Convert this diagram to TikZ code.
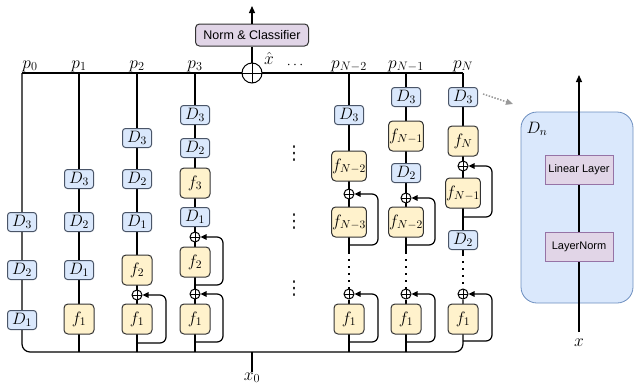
\RequirePackage{fix-cm}
\documentclass[tikz,border=0pt]{standalone}
\usepackage{fontspec}
\newfontfamily\sansf{Liberation Sans}
\newfontfamily\dejavu{DejaVu Sans}
\usetikzlibrary{arrows.meta,calc}
\definecolor{dfill}{HTML}{DAE8FC}
\definecolor{dline}{HTML}{4A5568}
\definecolor{ffill}{HTML}{FFF2CC}
\definecolor{fline}{HTML}{333333}
\definecolor{pfill}{HTML}{E1D5E7}
\definecolor{pline}{HTML}{9673A6}
\definecolor{bline}{HTML}{6C8EBF}
\definecolor{garr}{HTML}{999999}
\newcommand{\mfont}{\fontsize{16.5}{18}\selectfont}
\newcommand{\lfont}{\fontsize{17.5}{19}\selectfont}
\pgfdeclarelayer{bg}
\pgfsetlayers{bg,main}
\begin{document}
\begin{tikzpicture}[x=1pt,y=-1pt,line width=1.2pt,
  dbox/.style={draw=dline,fill=dfill,line width=1pt,rounded corners=3pt,minimum width=29pt,minimum height=19pt,inner sep=0.5pt,font=\mfont},
  fbox/.style={draw=fline,fill=ffill,line width=1pt,rounded corners=4pt,minimum width=30pt,minimum height=30pt,inner sep=0.5pt,font=\mfont},
  oplus/.style={circle,draw,fill=white,line width=1pt,minimum size=10pt,inner sep=0pt,
    path picture={\draw[line width=1pt] (path picture bounding box.north) -- (path picture bounding box.south)
      (path picture bounding box.west) -- (path picture bounding box.east);}},
  lbl/.style={font=\lfont,anchor=base,inner sep=0pt},
  skiparr/.style={line width=1.2pt,rounded corners=6pt,-{Triangle[length=6pt,width=5.5pt]}},
  arr/.style={line width=1.2pt,-{Triangle[length=7pt,width=6pt]}},
  solid1/.style={line width=1.2pt},
  dotl/.style={dash pattern=on 1.5pt off 5.5pt,line width=1.4pt},
  vd/.style={font=\dejavu\fontsize{19}{21}\selectfont,inner sep=0pt,text=black!85},
  nbox/.style={draw=fline,fill=pfill,line width=1pt,rounded corners=4pt,minimum width=113pt,minimum height=22pt,inner sep=0pt,font=\sansf\fontsize{12.5}{14}\selectfont},
  lbox/.style={draw=pline,fill=pfill,line width=0.8pt,minimum width=68pt,minimum height=29pt,inner sep=0pt,font=\sansf\fontsize{11}{13}\selectfont}]
\useasboundingbox (0,0) rectangle (635,386);

% coordinates
\coordinate (t0) at (22,73);
\coordinate (t1) at (79,73);
\coordinate (t2) at (137,73);
\coordinate (t3) at (195,73);
\coordinate (t4) at (349,73);
\coordinate (t5) at (406,73);
\coordinate (t6) at (463,73);
\coordinate (b1) at (79,352);
\coordinate (b2) at (137,352);
\coordinate (b3) at (195,352);
\coordinate (b4) at (349,352);
\coordinate (b5) at (406,352);
\coordinate (xb) at (252,352);
\coordinate (xe) at (252,372);
\coordinate (j2a) at (137,343);
\coordinate (j3b) at (195,285);
\coordinate (j3a) at (195,342);
\coordinate (j4b) at (349,245);
\coordinate (j4a) at (349,342);
\coordinate (a4s) at (349,252);
\coordinate (j5b) at (406,245);
\coordinate (j5a) at (406,342);
\coordinate (a5s) at (406,252);
\coordinate (j6b) at (463,217);
\coordinate (j6a) at (463,341);
\coordinate (a6s) at (463,254);
\coordinate (out) at (252,6);
\coordinate (xin) at (579,332);
\coordinate (xout) at (579,75);
\coordinate (gs) at (483,94);
\coordinate (ge) at (513,104);

% column p0
\node[dbox] (a0D3) at (22,222) {$D_3$};
\node[dbox] (a0D2) at (22,270) {$D_2$};
\node[dbox] (a0D1) at (22,320) {$D_1$};
% column p1
\node[dbox] (a1D3) at (79,179) {$D_3$};
\node[dbox] (a1D2) at (79,222) {$D_2$};
\node[dbox] (a1D1) at (79,270) {$D_1$};
\node[fbox] (a1f1) at (79,319) {$f_1$};
% column p2
\node[dbox] (a2D3) at (137,138) {$D_3$};
\node[dbox] (a2D2) at (137,179) {$D_2$};
\node[dbox] (a2D1) at (137,222) {$D_1$};
\node[fbox] (a2f2) at (137,270) {$f_2$};
\node[oplus] (a2p1) at (137,295) {};
\node[fbox] (a2f1) at (137,319) {$f_1$};
% column p3
\node[dbox] (a3D3) at (195,115) {$D_3$};
\node[dbox] (a3D2) at (195,148) {$D_2$};
\node[fbox] (a3f3) at (195,183) {$f_3$};
\node[dbox] (a3D1) at (195,217) {$D_1$};
\node[oplus] (a3p2) at (195,237) {};
\node[fbox] (a3f2) at (195,262) {$f_2$};
\node[oplus] (a3p1) at (195,294) {};
\node[fbox] (a3f1) at (195,319) {$f_1$};
% column p_{N-2}
\node[dbox] (a4D3) at (349,115) {$D_3$};
\node[fbox] (a4fa) at (349,166) {$f_{N-2}$};
\node[oplus] (a4p2) at (349,194) {};
\node[fbox] (a4fb) at (349,222) {$f_{N-3}$};
\node[oplus] (a4p1) at (349,294) {};
\node[fbox] (a4f1) at (349,319) {$f_1$};
% column p_{N-1}
\node[dbox] (a5D3) at (406,97) {$D_3$};
\node[fbox] (a5fa) at (406,136) {$f_{N-1}$};
\node[dbox] (a5D2) at (406,173) {$D_2$};
\node[oplus] (a5p2) at (406,198) {};
\node[fbox] (a5fb) at (406,222) {$f_{N-2}$};
\node[oplus] (a5p1) at (406,294) {};
\node[fbox] (a5f1) at (406,319) {$f_1$};
% column p_N
\node[dbox] (a6D3) at (463,97) {$D_3$};
\node[fbox] (a6fN) at (463,141) {$f_N$};
\node[oplus] (a6p2) at (463,166) {};
\node[fbox] (a6fb) at (463,193) {$f_{N-1}$};
\node[dbox] (a6D2) at (463,240) {$D_2$};
\node[oplus] (a6p1) at (463,294) {};
\node[fbox] (a6f1) at (463,319) {$f_1$};

% top
\node[oplus,minimum size=20pt] (top) at (252,73) {};
\node[nbox] (nc) at (252,35) {Norm \& Classifier};

% right detail
\node[lbox] (lin) at (579,169.5) {Linear Layer};
\node[lbox] (ln) at (579,246.5) {LayerNorm};

\begin{pgfonlayer}{bg}
\begin{scope}[line width=1.2pt]
  \node[draw=bline,fill=dfill,rounded corners=16pt,minimum width=112pt,minimum height=191pt,line width=0.8pt] (Dn) at (577,207.5) {};
  \draw[arr] (xin) -- (xout);
  \draw[solid1] (t0) -- (t6);
  \draw[solid1,rounded corners=8pt] (t0) |- (xb) -| (a6p1);
  \draw[solid1] (t1) -- (b1);
  \draw[solid1] (t2) -- (b2);
  \draw[solid1] (t3) -- (b3);
  \draw[solid1] (t4) -- (a4s);
  \draw[dotl] (a4s) -- (a4p1.north);
  \draw[solid1] (a4p1) -- (b4);
  \draw[solid1] (t5) -- (a5s);
  \draw[dotl] (a5s) -- (a5p1.north);
  \draw[solid1] (a5p1) -- (b5);
  \draw[solid1] (t6) -- (a6s);
  \draw[dotl] (a6s) -- (a6p1.north);
\end{scope}
\end{pgfonlayer}

% skip connections
\draw[skiparr] (j2a) -- ++(29,0) |- (a2p1.east);
\draw[skiparr] (j3b) -- ++(28,0) |- (a3p2.east);
\draw[skiparr] (j3a) -- ++(28,0) |- (a3p1.east);
\draw[skiparr] (j4b) -- ++(29,0) |- (a4p2.east);
\draw[skiparr] (j4a) -- ++(29,0) |- (a4p1.east);
\draw[skiparr] (j5b) -- ++(29,0) |- (a5p2.east);
\draw[skiparr] (j5a) -- ++(29,0) |- (a5p1.east);
\draw[skiparr] (j6b) -- ++(29,0) |- (a6p2.east);
\draw[skiparr] (j6a) -- ++(29,0) |- (a6p1.east);

% top connectors
\draw[solid1] (top) -- (nc);
\draw[arr] (nc) -- (out);
\draw[solid1] (xb) -- (xe);

% gray dotted pointer
\draw[garr,line width=1.5pt,dash pattern=on 1.5pt off 1.5pt,-{Triangle[length=7pt,width=6pt]}] (gs) -- (ge);

% labels
\node[lbl] at (30,68) {$p_0$};
\node[lbl] at (79,68) {$p_1$};
\node[lbl] at (137,68) {$p_2$};
\node[lbl] at (195,68) {$p_3$};
\node[lbl] at (349,68) {$p_{N-2}$};
\node[lbl] at (406,68) {$p_{N-1}$};
\node[lbl] at (463,68) {$p_N$};
\node[lbl] at (269,64) {$\hat{x}$};
\node[lbl,font=\fontsize{14}{16}\selectfont] at (295,68) {$\cdots$};
\node[lbl] at (252,380) {$x_0$};
\node[vd] at (294,154) {⋮};
\node[vd] at (294,222) {⋮};
\node[vd] at (294,289) {⋮};
\node[font=\mfont,inner sep=0pt] at (537,129) {$D_n$};
\node[lbl] at (579,346) {$x$};
\end{tikzpicture}
\end{document}
